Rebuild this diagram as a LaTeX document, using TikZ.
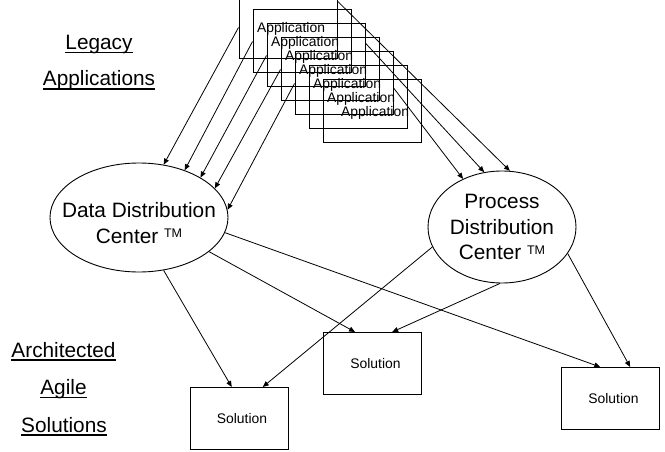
\documentclass[tikz,border=0pt]{standalone}
\usepackage{fontspec}
\setmainfont{Liberation Sans}
\usepackage{tikz}
\usetikzlibrary{
    shapes.geometric,
    arrows.meta
}

% underlined word, line close under the baseline
\newsavebox{\ulbox}
\newcommand{\ulword}[1]{\sbox{\ulbox}{#1}\rlap{\rule[-3.8pt]{\wd\ulbox}{1.4pt}}\usebox{\ulbox}}
% small raised trade mark
\newcommand{\tmsign}{{\fontsize{12.5}{12.5}\selectfont\raisebox{5.5pt}{TM}}}

\begin{document}
\begin{tikzpicture}[
    x=1pt, y=-1pt,
    >={Triangle[length=6pt, width=5pt]},
    lbl/.style={anchor=base, inner sep=0pt, font=\fontsize{20.8}{25}\selectfont},
    appbox/.style={draw=black, line width=1pt, minimum width=98pt, minimum height=63pt, inner sep=0pt, text depth=0pt, font=\fontsize{13.9}{16}\selectfont, execute at begin node=\hspace*{6pt}},
    solbox/.style={appbox, minimum height=62pt},
    hub/.style={ellipse, draw=black, line width=0.9pt, align=center, inner xsep=-30pt, inner ysep=0pt, font=\fontsize{20.8}{25.5}\selectfont},
    arr/.style={draw=black, line width=0.8pt, ->}
]
\useasboundingbox (0,0) rectangle (665,452);
\clip (0,0) rectangle (665,452);

% ==================== SIDE LABELS ====================
\node[lbl] (lbl_legacy) at (99,49.5) {\ulword{Legacy}};
\node[lbl] (lbl_apps) at (99,86) {\ulword{Applications}};
\node[lbl] (lbl_arch) at (63.5,357) {\ulword{Architected}};
\node[lbl] (lbl_agile) at (63.5,394.5) {\ulword{Agile}};
\node[lbl] (lbl_sols) at (64,432) {\ulword{Solutions}};

% ==================== LEGACY APPLICATION STACK ====================
\node[appbox] (app1) at (288,27.5) {Application};
\node[appbox] (app2) at (302,41.5) {Application};
\node[appbox] (app3) at (316,55.5) {Application};
\node[appbox] (app4) at (330,69.5) {Application};
\node[appbox] (app5) at (344,83.5) {Application};
\node[appbox] (app6) at (358,97.5) {Application};
\node[appbox] (app7) at (372,111.5) {Application};

% ==================== DISTRIBUTION CENTERS ====================
\node[hub, minimum width=178pt, minimum height=109pt] (ddc) at (139,217.5) {
    \rule{0pt}{26.4pt}Data Distribution\\
    Center \tmsign
};

\node[hub, minimum width=148pt, minimum height=112pt] (pdc) at (502,227) {
    Process\\
    Distribution\\
    Center \tmsign
};

% ==================== SOLUTIONS ====================
\node[solbox] (sol_a) at (239,418.5) {Solution};
\node[solbox] (sol_b) at (372.5,363.5) {Solution};
\node[solbox] (sol_c) at (610.5,398.5) {Solution};

% ==================== FEEDS ====================
\draw[arr] (app1.west) -- (ddc.65);
\draw[arr] (app2.west) -- (ddc.46);
\draw[arr] (app3.west) -- (ddc.33);
\draw[arr] (app4.west) -- (ddc.21);
\draw[arr] (app5.west) -- (ddc.5);

\draw[arr] (app1.28) -- (pdc.82);
\draw[arr] (app3.14) -- (pdc.108);
\draw[arr] (app5.-5) -- (pdc.129);

\draw[arr] (ddc.-65) -- (sol_a.103);
\draw[arr] (ddc.-26) -- (sol_b.119);
\draw[arr] (ddc.-10) -- (sol_c.108);

\draw[arr] (pdc.196) -- (sol_a.53);
\draw[arr] (pdc.-92) -- (sol_b.58);
\draw[arr] (pdc.-22) -- (sol_c.58);

\end{tikzpicture}
\end{document}
